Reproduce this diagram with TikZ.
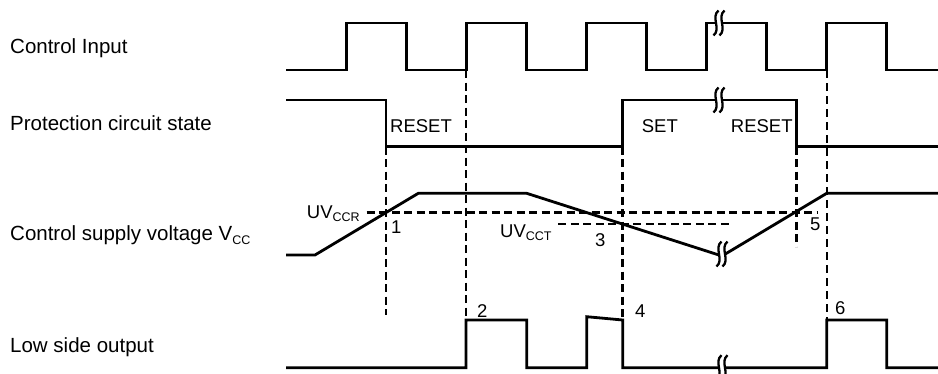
\documentclass[tikz,border=0pt]{standalone}
\usepackage{fontspec}
\setmainfont{Liberation Sans}
\newcommand\lowsub[1]{\raisebox{-0.2em}{\fontsize{12.5}{12.5}\selectfont #1}}
\begin{document}
\begin{tikzpicture}[x=1pt, y=-1pt,
    wave/.style={line width=2.8pt, line join=miter},
    guide/.style={line width=2.8pt, dash pattern=on 8pt off 4.5pt},
    thinguide/.style={line width=1.6pt, dash pattern=on 8pt off 5pt},
    lbl/.style={anchor=base west, inner sep=0pt, font=\fontsize{20.5}{24}\selectfont},
    tag/.style={lbl, font=\fontsize{18.5}{22}\selectfont},
    brk/.pic={
      \fill[white] (-0.5,-12.5) .. controls (-8.5,-6) and (2.5,6) .. (-5.5,12.5) -- (0.5,12.5) .. controls (8.5,6) and (-2.5,-6) .. (5.5,-12.5) -- cycle;
      \draw[line width=2.3pt] (-0.5,-12.5) .. controls (-8.5,-6) and (2.5,6) .. (-5.5,12.5);
      \draw[line width=2.3pt] (5.5,-12.5) .. controls (-2.5,-6) and (8.5,6) .. (0.5,12.5);
    },
]
\useasboundingbox (0,0) rectangle (938,373);

\def\ciL{70}
\def\ciH{23}
\def\psH{100}
\def\psL{146.7}
\def\loL{367.7}
\def\loH{320}
\def\uvr{212.3}
\def\uvt{224}

% guide lines
\draw[guide] (386,\psL) -- (386,315);
\draw[guide] (466,\ciL) -- (466,\loH);
\draw[guide] (622.7,\psL) -- (622.7,\loH);
\draw[guide] (796.7,\psL) -- (796.7,246.7);
\draw[thinguide] (826.7,\ciL) -- (826.7,\loH);
\draw[guide] (366.7,\uvr) -- (818.3,\uvr);
\draw[guide] (558.3,\uvt) -- (731.7,\uvt);

% control input
\draw[wave] (286,\ciL) foreach \k in {0,...,4} {
  -- ({346.7+120*\k},\ciL) -- ++(0,-47) -- ++(60,0) -- ++(0,47) } -- (938,\ciL);

% protection circuit state
\draw[wave] (286,\psH) -| (386,\psL) -| (622.7,\psH) -| (796.7,\psL) -- (938,\psL);

% supply voltage
\draw[wave] (286,255) -- (315,255) -- (418.3,193.3) -- (526.7,193.3) -- (722,256)
  -- (826.7,193.3) -- (938,193.3);

% low side output
\draw[wave] (286,\loL) -| (466,\loH) -| (526.7,\loL) -| (586.7,316.7) -- (622.7,\loH)
  |- (826.7,\loL) |- (886.7,\loH) |- (938,\loL);

% breaks
\foreach \p in {(719,\ciH), (719,\psH), (722,254), (722,\loL)}
  \pic at \p {brk};

% labels
\node[lbl] (ci) at (10,53) {Control Input};
\node[lbl] (pcs) at (10,130.7) {Protection circuit state};
\node[lbl] (vcc) at (10,240) {Control supply voltage V\lowsub{CC}};
\node[lbl] (lso) at (10,352) {Low side output};
\node[tag] (reset1) at (390,132.7) {RESET};
\node[tag] (set) at (641.7,132.7) {SET};
\node[tag] (reset2) at (730.7,132.7) {RESET};
\node[tag] (uvccr) at (306.7,218) {UV\lowsub{CCR}};
\node[tag] (uvcct) at (500,237) {UV\lowsub{CCT}};
\node[tag] (n1) at (391,233) {1};
\node[tag] (n2) at (477,317) {2};
\node[tag] (n3) at (595,246) {3};
\node[tag] (n4) at (635,317) {4};
\node[tag] (n5) at (810,230) {5};
\node[tag] (n6) at (835,314) {6};
\end{tikzpicture}
\end{document}
